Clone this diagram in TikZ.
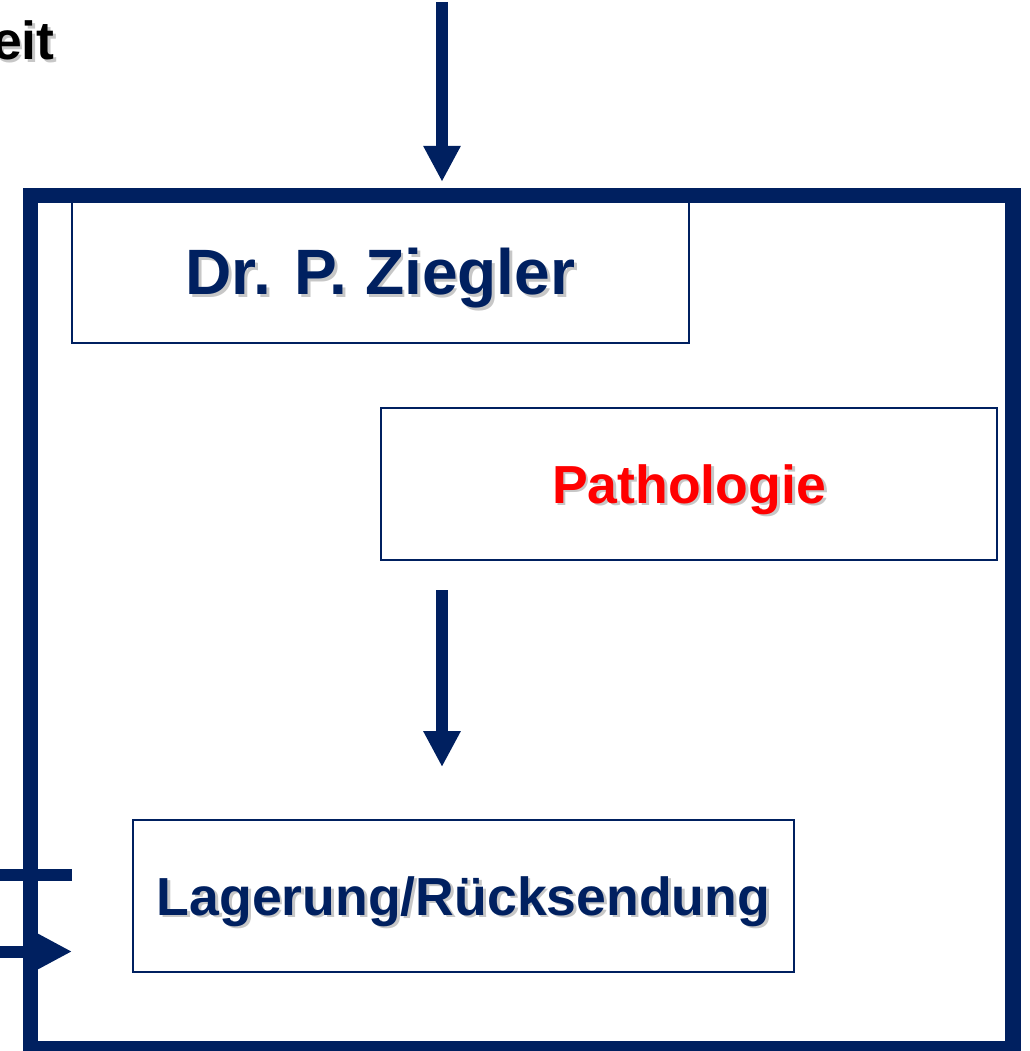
\documentclass[tikz,border=0pt]{standalone}
\usepackage{fontspec}
\setmainfont{Liberation Sans}
\usetikzlibrary{arrows.meta,positioning,calc}
\definecolor{darkblue}{HTML}{002060}
\newcommand{\shd}[1]{\rlap{\kern1.6pt\raisebox{-1.6pt}{\textcolor{black!22}{#1}}}#1}

\begin{document}
\begin{tikzpicture}[x=0.02cm,y=-0.02cm,
  box/.style={draw=darkblue,line width=0.04cm,minimum height=3.04cm,inner sep=0pt,text height=21.8pt,text depth=0pt,font=\fontsize{30.5}{34}\selectfont\bfseries,text=darkblue},
  frame/.style={draw=darkblue,line width=0.31cm,minimum width=19.65cm,minimum height=17.06cm,inner sep=0pt},
  arr/.style={-{Triangle[width=0.7cm,length=0.72cm]},line width=0.24cm,darkblue}]
  \useasboundingbox (0,0) rectangle (1030,1051);
  \node[box,minimum width=12.34cm,minimum height=2.86cm,text height=26.1pt,font=\fontsize{36.5}{40}\selectfont\bfseries] (ziegler) at (380.5,271.5) {\shd{Dr. P. Ziegler}};
  \node[box,minimum width=12.32cm,text=red] (patho) at (689,484) {\shd{Pathologie}};
  \node[box,minimum width=13.22cm] (lager) at (463.5,896) {\shd{Lagerung/Rücksendung}};
  \node[frame] (frame) at (521.75,622) {};
  \node[anchor=base east,inner sep=0pt,font=\fontsize{30.5}{34}\selectfont\bfseries] (title) at (55,60) {\shd{eit}};
  \coordinate (in) at (442,2);
  \coordinate (w1) at (-5,875);
  \coordinate (e1) at (72,875);
  \coordinate (w2) at (-5,951.5);
  \coordinate (e2) at (72,951.5);
  \draw[arr,shorten >=0.12cm] (in) -- (in |- frame.north);
  \draw[arr,shorten <=0.59cm,shorten >=1.04cm] (in |- patho.south) -- (in |- lager.north);
  \draw[line width=0.24cm,darkblue] (w1) -- (e1);
  \draw[arr] (w2) -- (e2);
\end{tikzpicture}
\end{document}
